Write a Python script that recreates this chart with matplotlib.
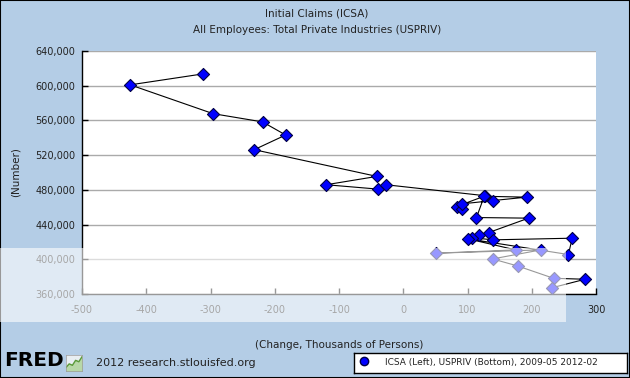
import matplotlib
matplotlib.use("Agg")
import matplotlib.pyplot as plt
from matplotlib.patches import Rectangle
from matplotlib.ticker import FuncFormatter

plt.rcParams["axes.unicode_minus"] = False

# USPRIV monthly change (thousands) and ICSA monthly level, 2009-05 .. 2012-02
uspriv = [-311, -425, -296, -219, -183, -232, -41, -120, -40, -27,
          128, 83, 92, 92, 140, 192, 126, 114, 195, 133,
          118, 107, 139, 263, 257, 101, 175, 51, 214, 139,
          178, 234, 283, 232]
icsa = [613700, 601000, 567800, 558300, 543200, 526300, 495500, 485900, 480900, 485900,
        473200, 460800, 457800, 463900, 467700, 471600, 472600, 448100, 447400, 430800,
        428100, 425000, 422400, 424300, 405500, 423500, 410800, 407000, 410800, 400400,
        392300, 378100, 377000, 367300]

y_ticks = [360000, 400000, 440000, 480000, 520000, 560000, 600000, 640000]
x_ticks = [-500, -400, -300, -200, -100, 0, 100, 200, 300]

# little trend line of the FRED logo icon
icon_trend = [1, 2, 1.6, 3, 2.6, 4]

legend_text = "ICSA (Left), USPRIV (Bottom), 2009-05 2012-02"

BG = "#b4cde6"
W, H = 630, 378

fig = plt.figure(figsize=(W / 100, H / 100), dpi=100, facecolor=BG)
fig.patches.append(Rectangle((0, 0), 1, 1, transform=fig.transFigure,
                             fill=False, edgecolor="black", linewidth=1.5))

ax = fig.add_axes([82 / W, 1 - 294 / H, (596 - 82) / W, (294 - 51) / H])
ax.set_facecolor("white")
ax.plot(uspriv, icsa, color="black", linewidth=0.8, zorder=2)
ax.scatter(uspriv, icsa, marker="D", s=38, color="#0000ff",
           edgecolor="#000044", linewidth=0.8, zorder=3)

ax.set_xlim(-500, 300)
ax.set_ylim(360000, 640000)
ax.set_xticks(x_ticks)
ax.set_yticks(y_ticks)
ax.yaxis.set_major_formatter(FuncFormatter(lambda v, p: f"{int(v):,}"))
ax.tick_params(direction="in", length=4, width=1, colors="black",
               labelcolor="#222222", labelsize=7)
ax.tick_params(axis="x", pad=8)
ax.tick_params(axis="y", pad=5)
ax.grid(axis="y", color="#aaaaaa", linewidth=1)
ax.set_axisbelow(True)
for s in ["top", "right"]:
    ax.spines[s].set_visible(False)
for s in ["left", "bottom"]:
    ax.spines[s].set_color("black")
    ax.spines[s].set_linewidth(1)
ax.set_xlabel("(Change, Thousands of Persons)", fontsize=7.5, color="#222222",
              labelpad=18)
ax.set_ylabel("(Number)", fontsize=7.5, color="#222222", labelpad=10)

fig.text(0.503, 1 - 14 / H, "Initial Claims (ICSA)", ha="center", va="center",
         fontsize=7.5, color="#222222")
fig.text(0.503, 1 - 30 / H, "All Employees: Total Private Industries (USPRIV)",
         ha="center", va="center", fontsize=7.5, color="#222222")

# footer: FRED mark and source
fig.text(4 / W, 1 - 361 / H, "FRED", ha="left", va="center", fontsize=14.5,
         fontweight="heavy", color="black")
icon = fig.add_axes([66 / W, 1 - 371 / H, 16 / W, 16 / H])
icon.set_facecolor("#e8eef2")
icon.plot(range(len(icon_trend)), icon_trend, color="#5a9a3a", linewidth=1)
icon.fill_between(range(len(icon_trend)), icon_trend, color="#b8d8a8")
icon.set_xlim(0, len(icon_trend) - 1)
icon.set_ylim(0, 4.5)
icon.set_xticks([])
icon.set_yticks([])
for s in icon.spines.values():
    s.set_color("#999999")
    s.set_linewidth(0.5)
fig.text(96 / W, 1 - 363 / H, "2012 research.stlouisfed.org", ha="left",
         va="center", fontsize=8, color="#222222")

# legend box
leg = fig.add_axes([354 / W, 1 - 373 / H, (627 - 354) / W, 20 / H])
leg.set_xlim(0, 1)
leg.set_ylim(0, 1)
leg.set_xticks([])
leg.set_yticks([])
leg.set_facecolor("white")
for s in leg.spines.values():
    s.set_color("black")
    s.set_linewidth(1)
leg.plot([0.035], [0.62], marker="o", markersize=6, color="#0000ff",
         markeredgecolor="#000044")
leg.text(0.115, 0.55, legend_text, ha="left", va="center", fontsize=6.5,
         color="#222222")

# translucent watermark band seen in the reference
fig.patches.append(Rectangle((0, 1 - 322 / H), 566 / W, 74 / H,
                             transform=fig.transFigure, facecolor="white",
                             alpha=0.6, edgecolor="none", zorder=10))

fig.savefig("out.png", dpi=100, facecolor=BG)
